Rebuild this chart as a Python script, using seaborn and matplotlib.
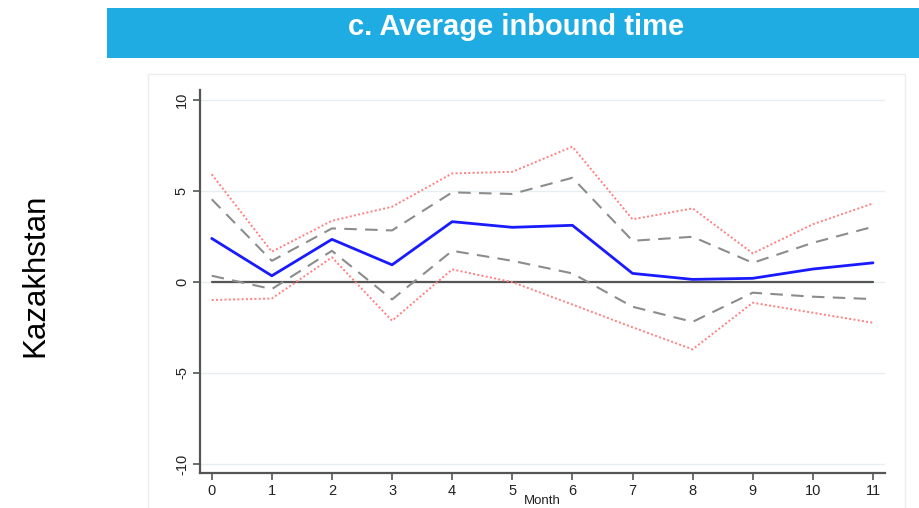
import matplotlib
matplotlib.use("Agg")
import matplotlib.pyplot as plt
import matplotlib.patches as mpatches
import numpy as np
import pandas as pd
import seaborn as sns

# Event-study estimates for average inbound time, Kazakhstan
months = list(range(12))
estimate = [2.38, 0.33, 2.33, 0.93, 3.30, 2.99, 3.10, 0.46, 0.13, 0.19, 0.70, 1.04]
ci90_upper = [4.53, 1.15, 2.93, 2.82, 4.91, 4.82, 5.71, 2.25, 2.47, 1.04, 2.14, 3.02]
ci90_lower = [0.33, -0.40, 1.70, -0.97, 1.70, 1.15, 0.46, -1.37, -2.20, -0.60, -0.82, -0.95]
ci95_upper = [5.90, 1.65, 3.35, 4.12, 5.95, 6.04, 7.42, 3.43, 4.03, 1.56, 3.16, 4.30]
ci95_lower = [-1.00, -0.92, 1.34, -2.14, 0.68, -0.02, -1.25, -2.50, -3.71, -1.15, -1.70, -2.25]
zero_line = [0] * 12

y_ticks = [-10, -5, 0, 5, 10]
title = "c. Average inbound time"
row_label = "Kazakhstan"
x_label = "Month"

df = pd.DataFrame({
    "Month": months,
    "estimate": estimate,
    "ci90_upper": ci90_upper,
    "ci90_lower": ci90_lower,
    "ci95_upper": ci95_upper,
    "ci95_lower": ci95_lower,
    "zero": zero_line,
})

sns.set_theme(style="white")
plt.rcParams["font.family"] = ["Liberation Sans", "DejaVu Sans"]

W, H = 919, 508
fig = plt.figure(figsize=(W / 100, H / 100), dpi=100)

# light outer frame around the graph panel
frame = mpatches.Rectangle((148 / W, 1 - 512 / H), (905 - 148) / W, (512 - 74) / H,
                           transform=fig.transFigure, fill=False,
                           edgecolor="#ececec", linewidth=1.0, zorder=0)
fig.add_artist(frame)

# blue header band with the panel title
header = mpatches.Rectangle((107 / W, 1 - 58 / H), (919 - 107) / W, 50 / H,
                            transform=fig.transFigure, facecolor="#1eace2",
                            edgecolor="none", zorder=1)
fig.add_artist(header)
fig.text(516 / W, 1 - 27 / H, title, color="white", fontsize=21, fontweight="bold",
         ha="center", va="center", zorder=2)

# rotated row label
fig.text(35 / W, 1 - 275 / H, row_label, rotation=90, fontsize=22.5, color="black",
         ha="center", va="center")

ax = fig.add_axes([200 / W, 1 - 473 / H, (885 - 200) / W, (473 - 90) / H])
ax.set_facecolor("none")

for yt in y_ticks:
    ax.axhline(yt, color="#e6eff0", linewidth=1.0, zorder=0)

sns.lineplot(data=df, x="Month", y="zero", ax=ax, color="#555555", linewidth=1.6,
             zorder=2)
sns.lineplot(data=df, x="Month", y="ci95_upper", ax=ax, color="#ff7f7f",
             linewidth=1.4, linestyle=(0, (1, 1.2)), zorder=3)
sns.lineplot(data=df, x="Month", y="ci95_lower", ax=ax, color="#ff7f7f",
             linewidth=1.4, linestyle=(0, (1, 1.2)), zorder=3)
sns.lineplot(data=df, x="Month", y="ci90_upper", ax=ax, color="#8c8c8c",
             linewidth=1.5, linestyle=(0, (6, 4)), zorder=4)
sns.lineplot(data=df, x="Month", y="ci90_lower", ax=ax, color="#8c8c8c",
             linewidth=1.5, linestyle=(0, (6, 4)), zorder=4)
sns.lineplot(data=df, x="Month", y="estimate", ax=ax, color="#1a1aff",
             linewidth=2.0, zorder=5)

ax.set_xlim(-0.195, 11.2)
ax.set_ylim(-10.5, 10.53)
ax.set_xticks(months)
ax.set_yticks(y_ticks)
ax.set_yticklabels([str(v) for v in y_ticks], rotation=90, va="center")
ax.tick_params(axis="both", direction="out", length=5, width=1.2, color="#555555",
               labelsize=10.5, labelcolor="#222222", bottom=True, left=True, pad=3)
ax.set_xlabel("")
ax.set_ylabel("")
fig.text(542 / W, 1 - 501 / H, x_label, fontsize=9.5, color="#222222",
         ha="center", va="center")

for side in ("top", "right"):
    ax.spines[side].set_visible(False)
for side in ("left", "bottom"):
    ax.spines[side].set_color("#555555")
    ax.spines[side].set_linewidth(1.6)

fig.savefig("out.png", dpi=100)
